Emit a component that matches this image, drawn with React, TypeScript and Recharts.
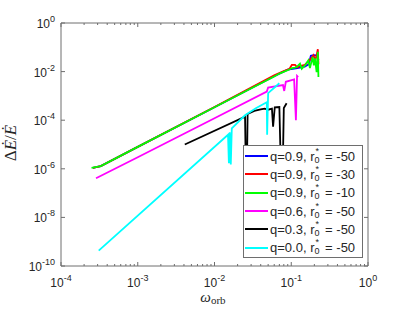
import { LineChart, Line, XAxis, YAxis, Legend, ReferenceArea } from "recharts";

// axis ticks
const X_MAJOR = [1e-4, 1e-3, 1e-2, 1e-1, 1];
const Y_TICKS = [1e-10, 1e-8, 1e-6, 1e-4, 1e-2, 1];
const X_MINOR: number[] = [];
for (const d of [1e-4, 1e-3, 1e-2, 1e-1]) {
  for (let m = 2; m <= 9; m++) X_MINOR.push(m * d);
}
const X_TICKS = [...X_MAJOR, ...X_MINOR].sort((a, b) => a - b);

// series values
const blueX = [2.6e-4, 3.3e-4, 1e-3, 1e-2, 0.06, 0.09, 0.12, 0.15, 0.17, 0.18, 0.195, 0.21, 0.22, 0.226];
const blueY = [1.1e-6, 1.3e-6, 8e-6, 3.4e-4, 6.5e-3, 0.012, 0.014, 0.016, 0.02, 0.045, 0.048, 0.047, 0.04, 0.03];

const redX = [2.6e-4, 3.3e-4, 1e-3, 1e-2, 0.06, 0.08, 0.095, 0.102, 0.112, 0.12, 0.13, 0.15, 0.175, 0.195, 0.205, 0.215, 0.222, 0.226];
const redY = [1.1e-6, 1.3e-6, 8e-6, 3.5e-4, 7e-3, 0.0105, 0.013, 0.019, 0.019, 0.015, 0.017, 0.019, 0.03, 0.047, 0.028, 0.05, 0.083, 0.02];

const greenX = [2.5e-4, 3.3e-4, 1e-3, 1e-2, 0.06, 0.0713, 0.0963, 0.102, 0.112, 0.118, 0.13, 0.137, 0.151, 0.167, 0.175, 0.19, 0.197, 0.204, 0.214, 0.222, 0.226];
const greenY = [1.1e-6, 1.3e-6, 8e-6, 3.4e-4, 6.3e-3, 8.5e-3, 0.0125, 0.014, 0.0145, 0.0155, 0.021, 0.013, 0.018, 0.029, 0.014, 0.04, 0.018, 0.035, 0.0096, 0.065, 0.006];

const magentaX = [2.86e-4, 1e-3, 1e-2, 0.048, 0.05, 0.078, 0.081, 0.085, 0.109, 0.115, 0.119, 0.123];
const magentaY = [4.1e-7, 3e-6, 1.2e-4, 1.5e-3, 2.2e-3, 2.8e-3, 1.6e-3, 3.8e-3, 4.8e-3, 1e-4, 6.6e-3, 5.9e-3];

const blackX = [4.1e-3, 0.025, 0.0255, 0.0262, 0.027, 0.033, 0.04, 0.045, 0.05, 0.056, 0.058, 0.061, 0.07, 0.0745, 0.0765, 0.08, 0.087];
const blackY = [1.0e-5, 1.4e-4, 2e-6, 1e-7, 1.8e-4, 2.4e-4, 2.8e-4, 3.0e-4, 2.7e-4, 3.0e-4, 5.4e-5, 3.4e-4, 3.5e-4, 1e-7, 1e-7, 3.2e-4, 5e-4];

const cyanX = [3.1e-4, 0.015, 0.0154, 0.0158, 0.0163, 0.0168, 0.025, 0.035, 0.048, 0.0485, 0.05, 0.07];
const cyanY = [4.3e-10, 2.5e-5, 1.7e-6, 3.2e-5, 1.5e-6, 4.6e-5, 1.6e-4, 3.2e-4, 5.5e-4, 2.5e-5, 1.3e-3, 3.3e-3];

const LEGEND_Q = ["0.9", "0.9", "0.9", "0.6", "0.3", "0.0"];
const LEGEND_R0 = ["-50", "-30", "-10", "-50", "-50", "-50"];
const COLORS = ["#0000ff", "#ff0000", "#00ff00", "#ff00ff", "#000000", "#00ffff"];

const toPoints = (xs: number[], ys: number[]) => xs.map((x, i) => ({ x, y: ys[i] }));
const SERIES = [
  toPoints(blueX, blueY),
  toPoints(redX, redY),
  toPoints(greenX, greenY),
  toPoints(magentaX, magentaY),
  toPoints(blackX, blackY),
  toPoints(cyanX, cyanY),
];

const W = 407;
const H = 309;
const LEFT = 61;
const TOP = 23;
const RIGHT = 368;
const BOTTOM = 266;
const AXIS = "#6e6e6e";
const TEXT = "#262626";
const SANS = '"Liberation Sans", Arial, Helvetica, sans-serif';
const SERIF = '"Liberation Serif", "Times New Roman", serif';

const exp10 = (v: number) => Math.round(Math.log10(v));

function XTick(props: any) {
  const { x, payload } = props;
  const v = payload.value;
  const major = X_MAJOR.includes(v);
  const len = major ? 4 : 2;
  return (
    <g>
      <line x1={x} x2={x} y1={BOTTOM} y2={BOTTOM - len} stroke={AXIS} />
      <line x1={x} x2={x} y1={TOP} y2={TOP + len} stroke={AXIS} />
      {major && (
        <text x={x} y={287} textAnchor="middle" fontSize={12} fontFamily={SANS} fill={TEXT}>
          10
          <tspan dy={-6} fontSize={9}>{exp10(v)}</tspan>
        </text>
      )}
    </g>
  );
}

function YTick(props: any) {
  const { y, payload } = props;
  const v = payload.value;
  return (
    <g>
      <line x1={LEFT} x2={LEFT + 4} y1={y} y2={y} stroke={AXIS} />
      <line x1={RIGHT} x2={RIGHT - 4} y1={y} y2={y} stroke={AXIS} />
      <text x={55} y={y + 5} textAnchor="end" fontSize={12} fontFamily={SANS} fill={TEXT}>
        10
        <tspan dy={-6} fontSize={9}>{exp10(v)}</tspan>
      </text>
    </g>
  );
}

function YTitle() {
  return (
    <text
      transform="translate(16,143) rotate(-90)"
      textAnchor="middle"
      fontSize={17}
      fontFamily={SERIF}
      fill={TEXT}
    >
      Δ<tspan fontStyle="italic">Ė</tspan>/<tspan fontStyle="italic">Ė</tspan>
    </text>
  );
}

function XTitle() {
  return (
    <text x={213} y={302} textAnchor="middle" fontFamily={SERIF} fill={TEXT}>
      <tspan fontSize={15} fontStyle="italic">ω</tspan>
      <tspan fontSize={11} dy={2}>orb</tspan>
    </text>
  );
}

function LegendBox() {
  return (
    <div
      style={{
        width: 120,
        height: 113,
        boxSizing: "border-box",
        border: `1px solid ${AXIS}`,
        background: "#fff",
        padding: "1px 0 0 1px",
        fontFamily: SANS,
        fontSize: 13,
        color: TEXT,
      }}
    >
      {LEGEND_Q.map((q, i) => (
        <div key={i} style={{ display: "flex", alignItems: "center", height: 18.3, whiteSpace: "nowrap" }}>
          <span style={{ display: "inline-block", width: 23, height: 2, background: COLORS[i], marginRight: 2 }} />
          <span>
            q={q}, r
            <span style={{ position: "relative", display: "inline-block", width: 7, height: 10 }}>
              <span style={{ position: "absolute", left: 0, top: 5, fontSize: 9, lineHeight: "9px" }}>0</span>
              <span style={{ position: "absolute", left: 1, top: -4, fontSize: 9, lineHeight: "9px" }}>*</span>
            </span>
            {" = "}
            {LEGEND_R0[i]}
          </span>
        </div>
      ))}
    </div>
  );
}

export default function App() {
  return (
    <div style={{ width: W, height: H, background: "#fff" }}>
      <style>{"body{margin:0}"}</style>
      <LineChart width={W} height={H} margin={{ top: TOP, right: W - RIGHT, bottom: 0, left: 0 }}>
        <XAxis
          dataKey="x"
          type="number"
          scale="log"
          domain={[1e-4, 1]}
          ticks={X_TICKS}
          interval={0}
          allowDataOverflow
          axisLine={false}
          tickLine={false}
          tick={<XTick />}
          height={H - BOTTOM}
          label={<XTitle />}
        />
        <YAxis
          dataKey="y"
          type="number"
          scale="log"
          domain={[1e-10, 1]}
          ticks={Y_TICKS}
          interval={0}
          allowDataOverflow
          axisLine={false}
          tickLine={false}
          tick={<YTick />}
          width={LEFT}
          label={<YTitle />}
        />
        <ReferenceArea x1={1e-4} x2={1} y1={1e-10} y2={1} fill="none" stroke={AXIS} ifOverflow="visible" />
        {SERIES.map((data, i) => (
          <Line
            key={i}
            data={data}
            dataKey="y"
            type="linear"
            stroke={COLORS[i]}
            strokeWidth={1.8}
            dot={false}
            isAnimationActive={false}
          />
        ))}
        <Legend
          layout="vertical"
          align="center"
          verticalAlign="middle"
          wrapperStyle={{ left: 243, top: 145, width: 120, height: 113 }}
          content={() => <LegendBox />}
        />
      </LineChart>
    </div>
  );
}
